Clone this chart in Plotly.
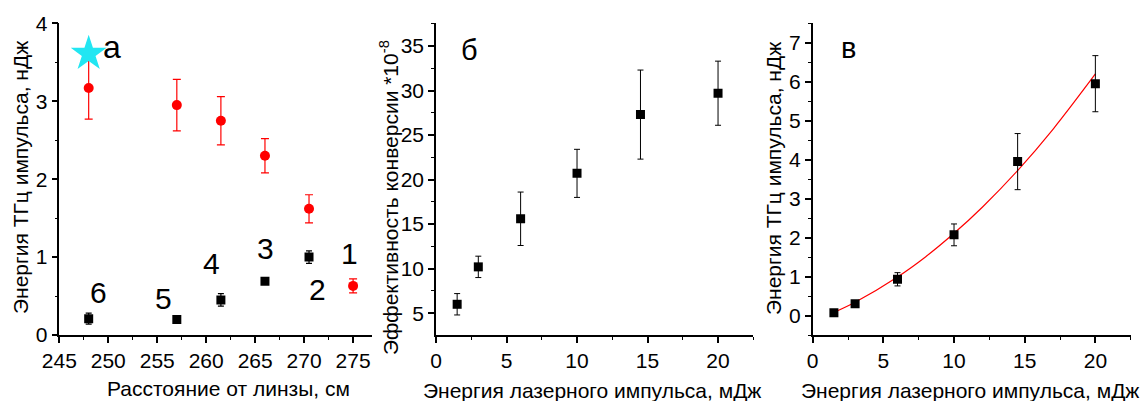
import plotly.graph_objects as go

W, H = 1147, 401
FONT = "Liberation Sans, Arial, sans-serif"

# ---------- panel a data ----------
a_dist = [248, 257, 261.5, 266, 270.5, 275]
a_red = [3.17, 2.95, 2.75, 2.30, 1.62, 0.63]
a_red_err = [0.40, 0.33, 0.31, 0.22, 0.18, 0.09]
a_blk_dist = [248, 257, 261.5, 266, 270.5]
a_blk = [0.21, 0.20, 0.45, 0.69, 1.00]
a_blk_err = [0.07, 0.02, 0.08, 0.03, 0.08]
a_star_x = [248]
a_star_y = [3.61]
a_labels = ["6", "5", "4", "3", "2", "1"]
a_label_x = [249.0, 255.6, 260.55, 266.1, 271.4, 274.66]
a_label_y = [0.54, 0.47, 0.92, 1.11, 0.58, 1.05]

# ---------- panel b data ----------
b_energy = [1.5, 3, 6, 10, 14.5, 20]
b_eff = [6.0, 10.2, 15.6, 20.7, 27.3, 29.7]
b_eff_err = [1.2, 1.2, 3.0, 2.7, 5.0, 3.6]

# ---------- panel c data ----------
c_energy = [1.5, 3, 6, 10, 14.5, 20]
c_thz = [0.07, 0.30, 0.93, 2.07, 3.95, 5.95]
c_thz_err = [0.03, 0.04, 0.17, 0.28, 0.72, 0.72]
c_fit_x = [1.5, 3, 6, 8, 10, 12, 14.5, 17, 20]
c_fit_y = [0.08, 0.34, 0.99, 1.51, 2.11, 2.78, 3.72, 4.78, 6.20]


def px_x(p):
    return p / W


def px_y(p):
    return 1 - p / H


fig = go.Figure()

# panel a
fig.add_trace(go.Scatter(
    x=a_dist, y=a_red, mode="markers",
    marker=dict(symbol="circle", size=10, color="#ff0000"),
    error_y=dict(type="data", array=a_red_err, color="#ff0000", thickness=1.2, width=4),
    xaxis="x", yaxis="y", showlegend=False))
fig.add_trace(go.Scatter(
    x=a_blk_dist, y=a_blk, mode="markers",
    marker=dict(symbol="square", size=9, color="#000000"),
    error_y=dict(type="data", array=a_blk_err, color="#000000", thickness=1.2, width=3),
    xaxis="x", yaxis="y", showlegend=False))
fig.add_trace(go.Scatter(
    x=a_star_x, y=a_star_y, mode="markers",
    marker=dict(symbol="star", size=27, color="#22e6f2"),
    xaxis="x", yaxis="y", showlegend=False))

# panel b
fig.add_trace(go.Scatter(
    x=b_energy, y=b_eff, mode="markers",
    marker=dict(symbol="square", size=9, color="#000000"),
    error_y=dict(type="data", array=b_eff_err, color="#000000", thickness=1, width=3),
    xaxis="x2", yaxis="y2", showlegend=False))

# panel c
fig.add_trace(go.Scatter(
    x=c_fit_x, y=c_fit_y, mode="lines", line=dict(color="#ff0000", width=1.2, shape="spline"),
    xaxis="x3", yaxis="y3", showlegend=False))
fig.add_trace(go.Scatter(
    x=c_energy, y=c_thz, mode="markers",
    marker=dict(symbol="square", size=9, color="#000000"),
    error_y=dict(type="data", array=c_thz_err, color="#000000", thickness=1, width=3),
    xaxis="x3", yaxis="y3", showlegend=False))


def ax(domain, rng, dtick, minor, tick0=None, anchor=None):
    d = dict(
        domain=domain, range=rng, dtick=dtick, showgrid=False, zeroline=False,
        showline=True, linecolor="black", linewidth=1.5, mirror=False,
        ticks="outside", ticklen=6, tickwidth=1.5, tickcolor="black",
        tickfont=dict(family=FONT, size=21, color="black"),
        minor=dict(dtick=minor, ticks="outside", ticklen=3, tickwidth=1.2, tickcolor="black", showgrid=False),
        anchor=anchor, fixedrange=True, automargin=False,
    )
    if tick0 is not None:
        d["tick0"] = tick0
        d["minor"]["tick0"] = tick0
    return d


ydom = [px_y(335), px_y(23.3)]

fig.update_layout(
    width=W, height=H, margin=dict(l=0, r=0, t=0, b=0, pad=0, autoexpand=False),
    paper_bgcolor="white", plot_bgcolor="white",
    font=dict(family=FONT, color="black"),
    xaxis=ax([px_x(59.3), px_x(371.7)], [245, 276.9], 5, 2.5, tick0=245, anchor="y"),
    yaxis=ax(ydom, [0, 4], 1, 0.5, tick0=0, anchor="x"),
    xaxis2=ax([px_x(436), px_x(753.3)], [0, 22.5], 5, 2.5, tick0=0, anchor="y2"),
    yaxis2=ax(ydom, [2.55, 37.55], 5, 2.5, tick0=0, anchor="x2"),
    xaxis3=ax([px_x(812.7), px_x(1130.7)], [0, 22.5], 5, 2.5, tick0=0, anchor="y3"),
    yaxis3=ax(ydom, [-0.5, 7.5], 1, 0.5, tick0=0, anchor="x3"),
)

ann = []
# labels in panel a
ann.append(dict(x=250.35, y=3.70, xref="x", yref="y", text="а", showarrow=False,
                font=dict(family=FONT, size=32, color="black")))
for t, x, y in zip(a_labels, a_label_x, a_label_y):
    ann.append(dict(x=x, y=y, xref="x", yref="y", text=t, showarrow=False,
                    font=dict(family=FONT, size=30, color="black")))
ann.append(dict(x=2.41, y=34.55, xref="x2", yref="y2", text="б", showarrow=False,
                font=dict(family=FONT, size=29, color="black")))
ann.append(dict(x=2.52, y=6.86, xref="x3", yref="y3", text="в", showarrow=False,
                font=dict(family=FONT, size=29, color="black")))

title_font = dict(family=FONT, size=21, color="black")
C = dict(xref="paper", yref="paper", showarrow=False, font=title_font, xanchor="center", yanchor="middle")
# x titles
ann.append(dict(x=px_x(228.5), y=px_y(388), text="Расстояние от линзы, см", **C))
ann.append(dict(x=px_x(591.5), y=px_y(390), text="Энергия лазерного импульса, мДж", **C))
ann.append(dict(x=px_x(970), y=px_y(390), text="Энергия лазерного импульса, мДж", **C))
# y titles
ann.append(dict(x=px_x(20), y=px_y(178), text="Энергия ТГц импульса, нДж", textangle=-90, **C))
ann.append(dict(x=px_x(389), y=px_y(198), text="Эффективность конверсии *10<sup>-8</sup>", textangle=-90, **C))
ann.append(dict(x=px_x(773), y=px_y(179), text="Энергия ТГц импульса, нДж", textangle=-90, **C))

fig.update_layout(annotations=ann)
fig.write_html("out.html")
